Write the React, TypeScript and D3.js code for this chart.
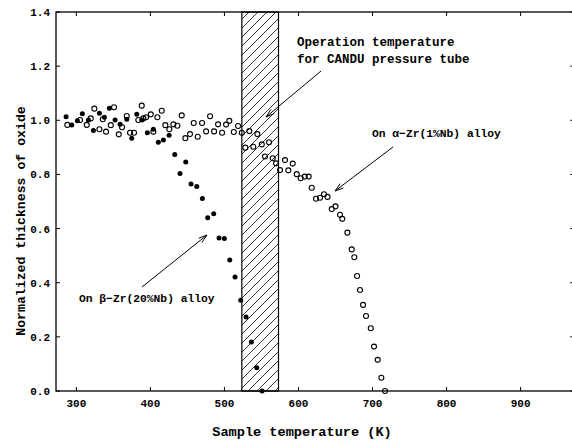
import React from "react";
import * as d3 from "d3";

const betaT = [286.1, 293.8, 301.4, 308.1, 316.2, 323.0, 331.1, 337.8, 344.6, 352.3, 359.0, 368.1, 374.8, 381.6, 388.3, 395.9, 404.0, 410.7, 417.5, 425.2, 432.9, 440.0, 447.7, 454.9, 462.6, 470.2, 477.4, 485.5, 492.7, 499.9, 507.2, 514.3, 522.0, 529.2, 536.3, 543.6, 550.8];
const betaV = [1.013, 0.983, 0.998, 1.024, 1.001, 0.962, 1.026, 1.011, 1.044, 1.001, 0.985, 1.004, 0.934, 1.022, 1.001, 0.954, 0.967, 0.919, 0.927, 0.945, 0.874, 0.803, 0.846, 0.765, 0.755, 0.711, 0.64, 0.655, 0.565, 0.563, 0.484, 0.421, 0.335, 0.273, 0.181, 0.086, 0.0];

const alphaT = [287.8, 305.0, 314.0, 319.4, 324.3, 331.1, 335.7, 340.1, 346.5, 350.9, 357.3, 361.7, 368.1, 372.5, 377.9, 383.7, 388.3, 390.5, 394.1, 400.5, 404.0, 409.4, 415.3, 420.2, 425.6, 431.0, 436.4, 442.3, 447.2, 453.5, 458.5, 463.9, 469.8, 475.2, 480.6, 486.0, 491.4, 496.8, 502.2, 506.6, 512.6, 518.4, 523.4, 528.2, 533.6, 539.0, 544.4, 550.4, 554.8, 560.2, 565.2, 569.7, 575.1, 581.8, 586.3, 592.2, 597.6, 603.0, 608.4, 613.8, 617.9, 623.7, 629.1, 634.5, 639.2, 644.9, 650.0, 656.1, 659.1, 666.0, 671.9, 675.4, 679.1, 683.1, 687.2, 691.2, 697.6, 702.0, 707.0, 711.9, 716.9];
const alphaV = [0.983, 1.001, 0.983, 1.007, 1.043, 0.967, 1.004, 0.958, 0.982, 1.048, 0.948, 0.974, 1.016, 0.954, 0.954, 1.001, 1.054, 1.007, 1.011, 1.022, 0.958, 1.011, 1.035, 0.982, 0.967, 0.985, 0.98, 1.018, 0.934, 0.949, 0.99, 0.939, 0.99, 0.959, 1.015, 0.959, 0.985, 0.954, 0.984, 0.998, 0.957, 0.979, 0.954, 0.899, 0.96, 0.902, 0.949, 0.911, 0.866, 0.919, 0.86, 0.841, 0.816, 0.853, 0.815, 0.84, 0.801, 0.786, 0.792, 0.792, 0.751, 0.71, 0.714, 0.727, 0.717, 0.672, 0.682, 0.651, 0.636, 0.585, 0.523, 0.494, 0.425, 0.373, 0.318, 0.277, 0.232, 0.164, 0.115, 0.049, 0.0];

const xTicks = [300, 400, 500, 600, 700, 800, 900];
const yTicks = [0, 0.2, 0.4, 0.6, 0.8, 1.0, 1.2, 1.4];
const bandRange = [523.5, 573];

const FONT = "'Liberation Mono', 'DejaVu Sans Mono', monospace";

export default function App() {
  const x = d3.scaleLinear().domain([272.5, 972.5]).range([56, 574.3]);
  const y = d3.scaleLinear().domain([0, 1.4]).range([391, 12]);
  const L = 56, R = 574.3, T = 12, B = 391;
  const tl = 4;

  const arrow = (x1: number, y1: number, x2: number, y2: number) => {
    const ang = Math.atan2(y2 - y1, x2 - x1);
    const len = 9, spread = 0.3;
    const a1 = ang + Math.PI - spread, a2 = ang + Math.PI + spread;
    return (
      <g stroke="#000" strokeWidth={1} fill="none">
        <line x1={x1} y1={y1} x2={x2} y2={y2} />
        <path d={`M${x2 + len * Math.cos(a1)},${y2 + len * Math.sin(a1)} L${x2},${y2} L${x2 + len * Math.cos(a2)},${y2 + len * Math.sin(a2)}`} />
      </g>
    );
  };

  return (
    <svg width={572} height={442} style={{ position: "absolute", left: 0, top: 0, background: "#fff" }}>
      <defs>
        <pattern id="hatch" patternUnits="userSpaceOnUse" width={9} height={9}>
          <path d="M-2,2 L2,-2 M0,9 L9,0 M7,11 L11,7" stroke="#000" strokeWidth={0.8} />
        </pattern>
      </defs>
      <rect x={0} y={0} width={572} height={442} fill="#fff" />
      {/* band */}
      <rect x={x(bandRange[0])} y={T} width={x(bandRange[1]) - x(bandRange[0])} height={B - T} fill="url(#hatch)" stroke="#000" strokeWidth={1.2} />
      {/* frame */}
      <rect x={L} y={T} width={R - L} height={B - T} fill="none" stroke="#000" strokeWidth={1.3} />
      {xTicks.map((t) => (
        <g key={"xt" + t}>
          <line x1={x(t)} x2={x(t)} y1={B} y2={B - tl} stroke="#000" />
          <line x1={x(t)} x2={x(t)} y1={T} y2={T + tl} stroke="#000" />
          <text x={x(t)} y={407} textAnchor="middle" fontFamily={FONT} fontSize={11} fontWeight="bold">{t}</text>
        </g>
      ))}
      {yTicks.map((t) => (
        <g key={"yt" + t}>
          <line x1={L} x2={L + tl} y1={y(t)} y2={y(t)} stroke="#000" />
          <line x1={R} x2={R - tl} y1={y(t)} y2={y(t)} stroke="#000" />
          <text x={50} y={y(t) + 4} textAnchor="end" fontFamily={FONT} fontSize={11} fontWeight="bold">{t.toFixed(1)}</text>
        </g>
      ))}
      {/* data */}
      {betaT.map((t, i) => (
        <circle key={"b" + i} cx={x(t)} cy={y(betaV[i])} r={2.5} fill="#000" />
      ))}
      {alphaT.map((t, i) => (
        <circle key={"a" + i} cx={x(t)} cy={y(alphaV[i])} r={2.5} fill="none" stroke="#000" strokeWidth={1.1} />
      ))}
      {/* annotations */}
      <text x={297} y={46} fontFamily={FONT} fontSize={12.5} fontWeight="bold">Operation temperature</text>
      <text x={297} y={63} fontFamily={FONT} fontSize={12.5} fontWeight="bold">for CANDU pressure tube</text>
      {arrow(321, 71, 266, 117)}
      <text x={372} y={137} fontFamily={FONT} fontSize={11.3} fontWeight="bold">On α−Zr(1%Nb) alloy</text>
      {arrow(393, 147, 335, 191)}
      <text x={79} y={302} fontFamily={FONT} fontSize={11.3} fontWeight="bold">On β−Zr(20%Nb) alloy</text>
      {arrow(142, 287, 207, 235)}
      {/* axis titles */}
      <text x={302} y={436} textAnchor="middle" fontFamily={FONT} fontSize={13.6} fontWeight="bold">Sample temperature (K)</text>
      <text transform="translate(25,221) rotate(-90)" textAnchor="middle" fontFamily={FONT} fontSize={13.2} fontWeight="bold">Normalized thickness of oxide</text>
    </svg>
  );
}
